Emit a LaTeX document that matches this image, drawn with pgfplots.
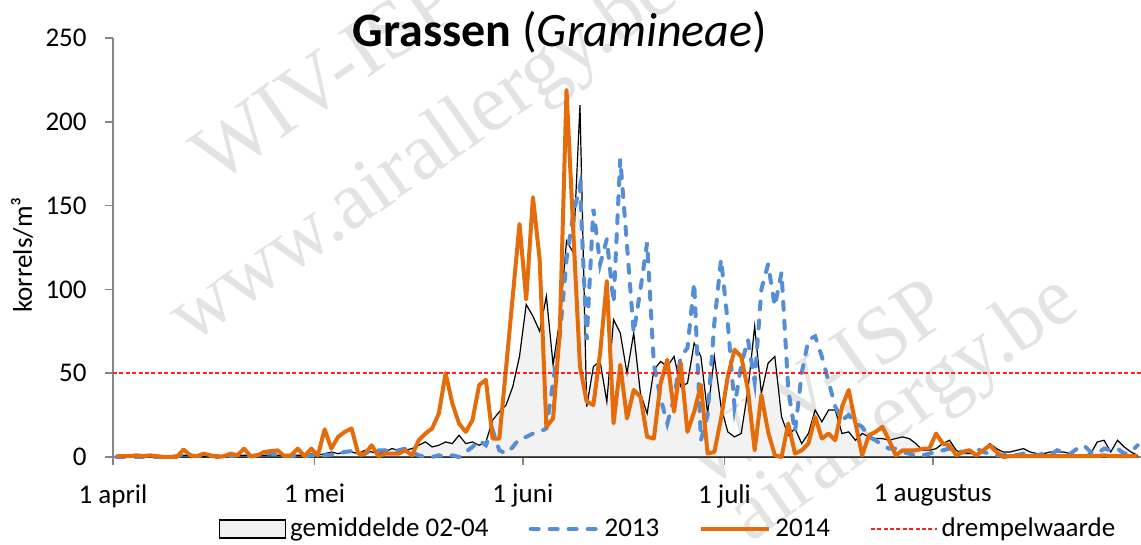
\documentclass[border=0pt]{standalone}
\usepackage{pgfplots}
\pgfplotsset{compat=1.18}
\usepackage{pgfplotstable}
\usepackage{fontspec}
\setmainfont{Carlito}
\newfontfamily\wmfont{Liberation Serif}
\definecolor{c13}{HTML}{558ED5}
\definecolor{c14}{HTML}{E46C0A}
\definecolor{thr}{HTML}{FF2020}
\definecolor{axgray}{HTML}{868686}
\definecolor{fillgray}{HTML}{F2F2F2}
\pgfplotsset{
  boxlegend/.style={legend image code/.code={\draw[##1] (0pt,-4.5pt) rectangle (33pt,4.5pt);}},
  linelegend/.style={legend image code/.code={\draw[##1] (1pt,0pt) -- (35pt,0pt);}},
  thrlegend/.style={legend image code/.code={\draw[##1] (1pt,0pt) -- (34pt,0pt);}},
}
\pgfplotstableread{
d avg y13 y14
0 0.5 0 0.5
1 0.5 0 0.5
2 0.5 0 0.5
3 0.5 0 1
4 0.5 0 0.5
5 0.5 0 1
6 0.5 0 0.5
7 0.5 0 0
8 0.5 0 0
9 0.5 0.5 0
10 1 1.5 4.5
11 1 0.5 1
12 0.5 0.5 0.5
13 0.5 0.5 2
14 0.5 0.5 1
15 0.5 0.5 0
16 0.5 0.5 0.5
17 1 0.5 2
18 1 1 1
19 1 1 5
20 1 0.5 0.5
21 1 1 1
22 1 2 3
23 1 2 3.5
24 1 1.5 4
25 1 1 0.5
26 1 0.5 1
27 1 1 5
28 1 0.5 0.5
29 2 1 5
30 1 0.5 1
31 2 1 16.5
32 3 1.5 5
33 2 2 12
34 3 3 15
35 3 3.5 17
36 2 1 2
37 4 2 2
38 3 4 7
39 2 4 0.5
40 3 4 2
41 5 3 2
42 4 4 2
43 4 5 4
44 5 3 1
45 7 1 10
46 9 0 14
47 6 0 17
48 7 1 26
49 9 0 50
50 8 1 32
51 13 0 20
52 8 3 15
53 9 6 22
54 7 10 43
55 9 7 46
56 22 16 11
57 27 4 11
58 31 2 53
59 42 6 96
60 60 11 139
61 91 12 94
62 84 14 155
63 75 15 118
64 96 17 18
65 55 45 23
66 82 72 75
67 129 118 219
68 122 145 135
69 210 162 54
70 30 70 33
71 54 148 31
72 57 115 62
73 33 130 105
74 82 92 20
75 74 178 55
76 50 126 23
77 74 74 40
78 38 100 36
79 26 128 12
80 52 55 11
81 57 35 44
82 54 20 58
83 60 35 27
84 42 60 56
85 44 65 15
86 68 104 27
87 60 10 43
88 26 25 2
89 60 80 3
90 30 118 23
91 15 80 48
92 12 30 64
93 14 55 60
94 40 70 40
95 78 45 4
96 38 100 37
97 56 115 15
98 60 90 1
99 24 110 0
100 13 40 20
101 17 15 2
102 8 50 4
103 14 70 8
104 28 72 24
105 21 60 11
106 28 45 14
107 28 30 10
108 14 22 30
109 15 25 40
110 10 20 20
111 14 18 1
112 12 12 13
113 11 10 15
114 11 7 18
115 10 5 10
116 11 5 1
117 12 3 4
118 11 2 4
119 8 1 4
120 4 1 5
121 4 2 5
122 5 3 14
123 8 4 8
124 10 5 7
125 4 4 1
126 2 3 3
127 2 4 4
128 2 5 1
129 4 3 4
130 8 2 7
131 5 1 3
132 3 1 0
133 3 2 0.5
134 4 1 0.5
135 5 2 0.5
136 3 1 0.5
137 2 1 0.5
138 2 2 0.5
139 3 1 0.5
140 3 4 0.5
141 3 3 0.5
142 2 2 0.5
143 1 5 0.5
144 1 7 0.5
145 2 3 0.5
146 9 2 0.5
147 10 5 1
148 3 4 0.5
149 10 5 0.5
150 6 2 0.5
151 3 3 0.5
152 1 7 0.5
}\data
\begin{document}
\begin{tikzpicture}
\useasboundingbox (-56.5pt,-44pt) rectangle (514pt,228.5pt);
% watermark
\begin{scope}[every node/.style={text=black!11, font=\wmfont\fontsize{41}{41}\selectfont, rotate=35, inner sep=0pt}]
\node at (106pt,190pt) {WIV-ISP};
\node at (156pt,150pt) {www.airallergy.be};
\node at (351pt,37pt) {WIV-ISP};
\node at (396pt,23pt) {airallergy.be};
\end{scope}
\node[font=\fontsize{24}{28}\selectfont, anchor=base] at (223.5pt,205pt) {\textbf{Grassen} (\textit{Gramineae})};
\node[font=\fontsize{13.5}{16}\selectfont, rotate=90] at (-45.5pt,101pt) {korrels/m³};
\begin{axis}[
  at={(0,0)}, anchor=south west,
  scale only axis, width=514pt, height=209.5pt,
  xmin=0, xmax=153, ymin=0, ymax=250,
  axis lines*=left,
  axis line style={axgray, line width=0.8pt},
  xtick={0,30,61,91,122},
  xticklabels={1 april, 1 mei, 1 juni, 1 juli, 1 augustus},
  ytick={0,50,100,150,200,250},
  tick style={axgray, line width=0.8pt},
  tick align=outside, major tick length=4pt,
  ticklabel style={font=\fontsize{13.5}{16}\selectfont, inner sep=0pt},
  yticklabel style={xshift=-9pt},
  xticklabel style={yshift=-9.5pt, anchor=north},
  /pgf/number format/assume math mode=true,
  clip=false,
  legend columns=4,
  legend style={at={(0.541,-0.172)}, anchor=center, draw=none, fill=none,
    font=\fontsize{13.5}{16}\selectfont,
    /tikz/every even column/.append style={column sep=18pt},
    nodes={inner sep=2pt}},
]
\addplot[fill=fillgray, draw=black, line width=0.6pt, boxlegend]
  table[x expr=\thisrow{d}+0.5, y=avg] {\data} \closedcycle;
\addlegendentry{gemiddelde 02-04}
\addplot[c13, line width=2pt, line cap=round, dash pattern=on 4pt off 5.5pt, linelegend]
  table[x expr=\thisrow{d}+0.5, y=y13] {\data};
\addlegendentry{2013}
\addplot[c14, line width=2pt, line join=round, linelegend]
  table[x expr=\thisrow{d}+0.5, y=y14] {\data};
\addlegendentry{2014}
\addplot[draw=thr, color=thr, line width=0.8pt, dash pattern=on 2pt off 1.2pt, thrlegend]
  coordinates {(0,50) (153,50)};
\addlegendentry{drempelwaarde}
\end{axis}
\end{tikzpicture}
\end{document}
